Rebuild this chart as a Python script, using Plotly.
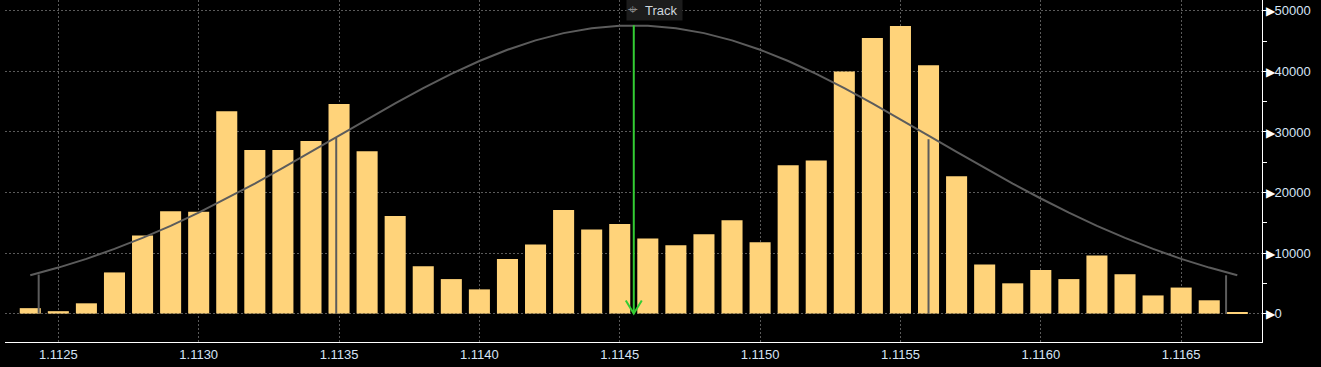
import plotly.graph_objects as go

# ---- data ----
price_bins = [1.1124, 1.1125, 1.1126, 1.1127, 1.1128, 1.1129, 1.1130, 1.1131, 1.1132, 1.1133,
              1.1134, 1.1135, 1.1136, 1.1137, 1.1138, 1.1139, 1.1140, 1.1141, 1.1142, 1.1143,
              1.1144, 1.1145, 1.1146, 1.1147, 1.1148, 1.1149, 1.1150, 1.1151, 1.1152, 1.1153,
              1.1154, 1.1155, 1.1156, 1.1157, 1.1158, 1.1159, 1.1160, 1.1161, 1.1162, 1.1163,
              1.1164, 1.1165, 1.1166, 1.1167]
volumes = [900, 400, 1700, 6800, 12900, 16900, 16800, 33400, 27000, 27000,
           28500, 34600, 26800, 16100, 7800, 5700, 4000, 9000, 11400, 17100,
           13900, 14800, 12400, 11300, 13100, 15400, 11800, 24500, 25300, 40000,
           45500, 47500, 41000, 22700, 8100, 5000, 7200, 5700, 9600, 6500,
           3000, 4300, 2200, 150]
curve_values = [6320, 7600, 9040, 10680, 12500, 14500, 16670, 19010, 21480, 24060,
                26710, 29410, 32100, 34720, 37230, 39580, 41710, 43570, 45120, 46320,
                47130, 47550, 47550, 47130, 46320, 45120, 43570, 41710, 39580, 37230,
                34720, 32100, 29410, 26710, 24060, 21480, 19010, 16670, 14500, 12500,
                10680, 9040, 7600, 6320]
marker_x = [1.11243, 1.11349, 1.11560, 1.11666]
marker_top = [6450, 29000, 28800, 6330]
track_price = 1.11455
track_top = 47600

x_ticks = [1.1125, 1.1130, 1.1135, 1.1140, 1.1145, 1.1150, 1.1155, 1.1160, 1.1165]
x_ticklabels = ["1.1125", "1.1130", "1.1135", "1.1140", "1.1145", "1.1150", "1.1155", "1.1160", "1.1165"]
y_ticks = [0, 10000, 20000, 30000, 40000, 50000]
y_ticklabels = [str(v) for v in y_ticks]

# ---- style ----
BAR = "#FFD37A"
GRID = "#5a5a5a"
TXT = "#d6e4f5"
FONT = "Liberation Sans"

fig = go.Figure()
fig.add_trace(go.Bar(x=price_bins, y=volumes, width=0.000075,
                     marker=dict(color=BAR, line=dict(width=0)), hoverinfo="skip"))
fig.add_trace(go.Scatter(x=price_bins, y=curve_values, mode="lines",
                         line=dict(color="#5c5c5c", width=2), hoverinfo="skip"))

vx, vy = [], []
for mx, mt in zip(marker_x, marker_top):
    vx += [mx, mx, None]
    vy += [0, mt, None]
fig.add_trace(go.Scatter(x=vx, y=vy, mode="lines",
                         line=dict(color="#5c5c5c", width=2), hoverinfo="skip"))

fig.add_trace(go.Scatter(x=[track_price, track_price], y=[0, track_top], mode="lines",
                         line=dict(color="#33cc33", width=2), hoverinfo="skip"))
fig.add_shape(type="path", xref="x", yref="y", xsizemode="pixel", ysizemode="pixel",
              xanchor=track_price, yanchor=0,
              path="M-8,13 L0,0 L8,13", line=dict(color="#33cc33", width=2))

fig.add_annotation(x=track_price, xref="x", y=1, yref="paper", xanchor="left", yanchor="top",
                   xshift=-8, yshift=2, showarrow=False,
                   text="<span style='color:#8a8a8a;font-size:17px'>⌖</span>  Track ",
                   font=dict(family=FONT, size=13, color="#cfd6de"),
                   bgcolor="#1c1c1c", borderpad=1)

fig.update_layout(
    width=1321, height=367,
    margin=dict(l=5, r=59, t=0, b=25),
    paper_bgcolor="#000000", plot_bgcolor="#000000",
    showlegend=False,
    font=dict(family=FONT, size=13, color=TXT),
    xaxis=dict(range=[1.11231, 1.116788], tickmode="array", tickvals=x_ticks, ticktext=x_ticklabels,
               showgrid=True, gridcolor=GRID, griddash="2px,2px", gridwidth=1,
               zeroline=False, showline=True, linecolor="#ffffff", linewidth=1,
               ticks="", tickfont=dict(family=FONT, size=13, color=TXT)),
    yaxis=dict(side="right", range=[-4690, 51790], tickmode="array", tickvals=y_ticks,
               ticktext=["<span style='color:#ffffff;font-size:12px'>▶</span>" + t for t in y_ticklabels],
               showgrid=True, gridcolor=GRID, griddash="2px,2px", gridwidth=1,
               zeroline=False, showline=True, linecolor="#ffffff", linewidth=1,
               ticks="", ticklabelstandoff=0,
               tickfont=dict(family=FONT, size=13, color=TXT),
               minor=dict(ticks="outside", ticklen=4, tickcolor="#ffffff", dtick=5000, tick0=0,
                          showgrid=False)),
)

fig.write_html("out.html")
